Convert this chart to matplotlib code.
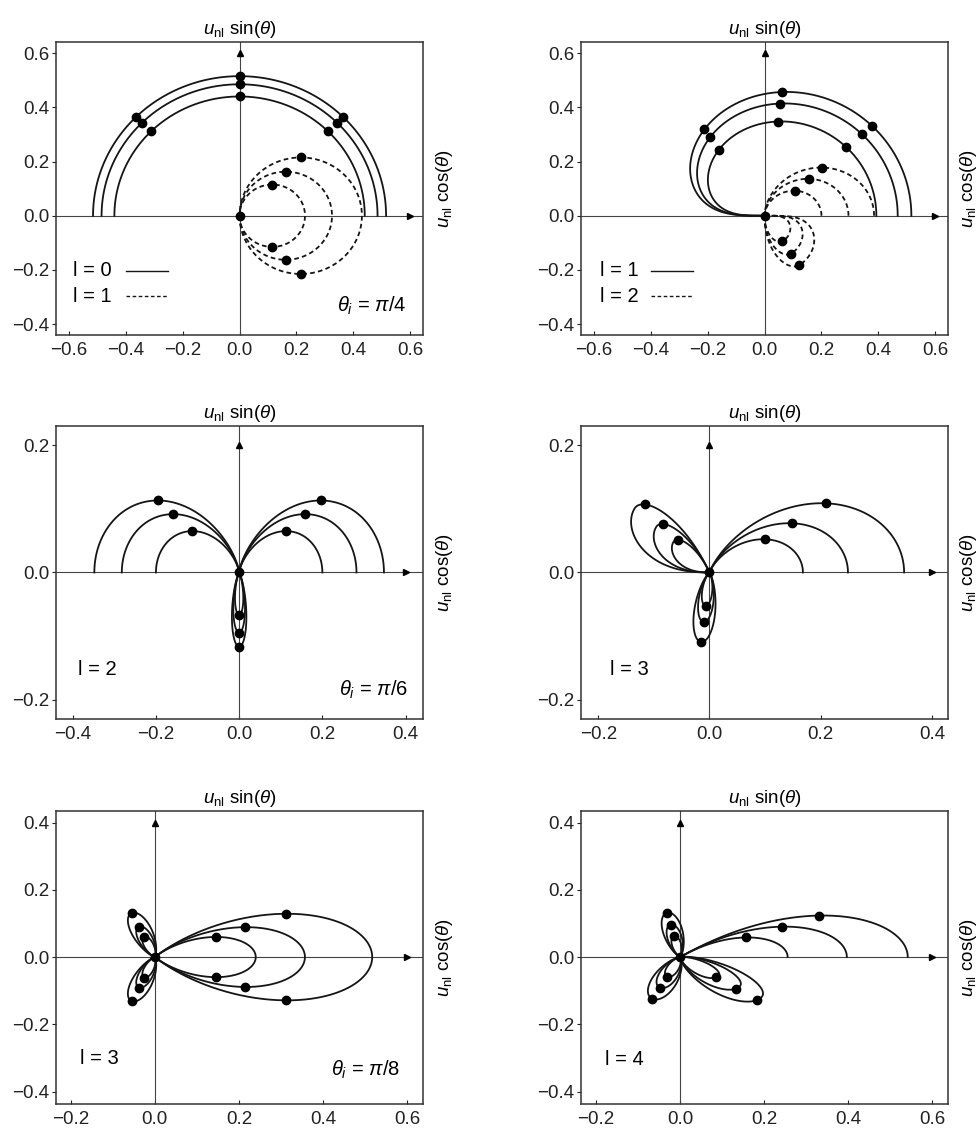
"""Polar plots of u_nl(theta) for several l and incidence angles."""
import numpy as np
import matplotlib
matplotlib.use("Agg")
import matplotlib.pyplot as plt
from matplotlib.ticker import FuncFormatter

plt.rcParams["font.family"] = ["Liberation Sans", "DejaVu Sans"]
plt.rcParams["mathtext.fontset"] = "custom"
plt.rcParams["mathtext.rm"] = "Liberation Sans"
plt.rcParams["mathtext.it"] = "Liberation Sans:italic"
plt.rcParams["font.size"] = 13.5

# Each lobe: (start angle, peak angle, end angle, relative radius, q before peak, q after peak)
# angles in degrees (direction in the x-y plane); three curves per family scaled by *_AMP.

# theta_i = pi/4, l = 0 (solid) and l = 1 (dashed)
A_SOLID_AMP = [0.44, 0.485, 0.515]
A_SOLID_LOBES = [(0, 0, 180, 1.0, 0.0, 0.0)]
A_SOLID_DOTS = [45, 90, 135]
A_DASH_AMP = [0.23, 0.325, 0.43]
A_DASH_LOBES = [(-90, 0, 90, 1.0, 1.0, 1.0)]
A_DASH_DOTS = [45, -45]

# theta_i = pi/4, l = 1 (solid) and l = 2 (dashed)
B_SOLID_AMP = [0.393, 0.468, 0.516]
B_SOLID_LOBES = [(0, 0, 180, 1.0, 0.0, 0.4)]
B_SOLID_DOTS = [41.2, 82.4, 123.6]
B_DASH_AMP = [0.20, 0.295, 0.385]
B_DASH_LOBES = [(0, 0, 90, 1.0, 0.0, 1.25), (270, 304, 360, 0.57, 0.9, 0.3)]
B_DASH_DOTS = [41.2, 303.6]

# theta_i = pi/6, l = 2
C_AMP = [0.20, 0.282, 0.348]
C_LOBES = [(0, 0, 90, 1.0, 0.0, 3.0), (90, 180, 180, 1.0, 3.0, 0.0),
           (180, 270, 360, 0.335, 16.0, 16.0)]
C_DOTS = [30, 150, 270]

# theta_i = pi/6, l = 3
D_AMP = [0.168, 0.249, 0.35]
D_LOBES = [(0, 0, 70, 1.0, 0.0, 1.95), (118, 143, 180, 0.48, 1.0, 0.7),
           (172, 262, 352, 0.315, 12.0, 12.0)]
D_DOTS = [27.5, 137.5, 262.5]

# theta_i = pi/8, l = 3
E_AMP = [0.24, 0.357, 0.517]
E_LOBES = [(-45, 0, 45, 1.0, 1.24, 1.24), (22.5, 112.5, 202.5, 0.275, 12.0, 12.0),
           (157.5, 247.5, 337.5, 0.275, 12.0, 12.0)]
E_DOTS = [22.5, -22.5, 112.5, 247.5]

# theta_i = pi/8, l = 4
F_AMP = [0.256, 0.397, 0.542]
F_LOBES = [(0, 0, 35, 1.0, 0.0, 0.86), (13, 103, 193, 0.25, 12.0, 12.0),
           (152, 242, 332, 0.26, 8.0, 8.0), (239, 329, 419, 0.42, 8.0, 14.0)]
F_DOTS = [20.5, 103, 242, 325]

TICKS_A = ([-0.6, -0.4, -0.2, 0.0, 0.2, 0.4, 0.6], [-0.4, -0.2, 0.0, 0.2, 0.4, 0.6])
TICKS_C = ([-0.4, -0.2, 0.0, 0.2, 0.4], [-0.2, 0.0, 0.2])
TICKS_D = ([-0.2, 0.0, 0.2, 0.4], [-0.2, 0.0, 0.2])
TICKS_E = ([-0.2, 0.0, 0.2, 0.4, 0.6], [-0.4, -0.2, 0.0, 0.2, 0.4])

SOLID = "-"
DASHED = (0, (2.6, 1.8))
LINE_KW = dict(color="#151515", lw=1.3)
NOTE_SIZE = 14.5


def lobe_r(psi, start, peak, end, amp, q_in, q_out):
    psi = np.atleast_1d(np.asarray(psi, dtype=float))
    t = np.zeros_like(psi)
    lo = psi < peak
    if peak > start:
        t[lo] = (psi[lo] - peak) / (peak - start)
    hi = ~lo
    if end > peak:
        t[hi] = (psi[hi] - peak) / (end - peak)
    q = np.where(lo, q_in, q_out)
    c = np.clip(np.cos(np.deg2rad(90.0 * t)), 0.0, None)
    return amp * c ** q


def draw_family(ax, amps, lobes, dots, style):
    for R in amps:
        for lobe in lobes:
            psi = np.linspace(lobe[0], lobe[2], 500)
            r = R * lobe_r(psi, *lobe)
            ax.plot(r * np.cos(np.deg2rad(psi)), r * np.sin(np.deg2rad(psi)),
                    linestyle=style, **LINE_KW, zorder=3)
        for d in dots:
            r = 0.0
            for lobe in lobes:
                if lobe[0] <= d <= lobe[2]:
                    r = max(r, R * lobe_r(d, *lobe)[0])
            ax.plot(r * np.cos(np.deg2rad(d)), r * np.sin(np.deg2rad(d)), "o",
                    color="k", ms=6, zorder=4)


def fmt(v, _):
    s = f"{v:.1f}"
    if s == "-0.0":
        s = "0.0"
    return s.replace("-", "\u2212")


def setup_axes(ax, xlim, ylim, ticks):
    ax.set_xlim(*xlim)
    ax.set_ylim(*ylim)
    ax.set_xticks(ticks[0])
    ax.set_yticks(ticks[1])
    ax.xaxis.set_major_formatter(FuncFormatter(fmt))
    ax.yaxis.set_major_formatter(FuncFormatter(fmt))
    ax.tick_params(axis="x", direction="in", length=3, width=0.8, colors="#222222",
                   labelsize=13.5, pad=5)
    ax.tick_params(axis="y", direction="out", length=3, width=0.8, colors="#222222",
                   labelsize=13.5, pad=2)
    for sp in ax.spines.values():
        sp.set_linewidth(1.1)
        sp.set_color("#333333")
    ax.axhline(0, color="#444444", lw=0.8, zorder=2)
    ax.axvline(0, color="#444444", lw=0.8, zorder=2)
    ax.plot(0, max(ticks[1]), marker="^", color="k", ms=5, zorder=5, clip_on=False)
    ax.plot(max(ticks[0]), 0, marker=">", color="k", ms=5, zorder=5, clip_on=False)
    ax.set_title(r"$u_{\mathrm{nl}}$ sin($\theta$)", fontsize=13.5, pad=6)
    ax.text(1.057, 0.5, r"$u_{\mathrm{nl}}$ cos($\theta$)", transform=ax.transAxes,
            rotation=90, ha="center", va="center", fontsize=13.5)
    ax.plot(0, 0, "o", color="k", ms=6, zorder=4)


def legend_pair(ax, x_text, labels):
    for (label, style), yy in zip(labels, [0.22, 0.133]):
        ax.text(x_text, yy, label, transform=ax.transAxes, ha="left", va="center",
                fontsize=NOTE_SIZE)
        ax.plot([0.19, 0.306], [yy, yy], transform=ax.transAxes, linestyle=style,
                color="#151515", lw=1.0)


fig = plt.figure(figsize=(9.78, 11.29), dpi=100)
W, H = 0.3753, 0.2595
COLS = [0.0573, 0.5941]
ROWS = [0.7033, 0.3632, 0.0221]

# row 1
ax = fig.add_axes([COLS[0], ROWS[0], W, H])
setup_axes(ax, (-0.645, 0.645), (-0.44, 0.641), TICKS_A)
draw_family(ax, A_SOLID_AMP, A_SOLID_LOBES, A_SOLID_DOTS, SOLID)
draw_family(ax, A_DASH_AMP, A_DASH_LOBES, A_DASH_DOTS, DASHED)
legend_pair(ax, 0.045, [("l = 0", SOLID), ("l = 1", DASHED)])
ax.text(0.955, 0.10, r"$\theta_i$ = $\pi$/4", transform=ax.transAxes, ha="right",
        va="center", fontsize=NOTE_SIZE)

ax = fig.add_axes([COLS[1], ROWS[0], W, H])
setup_axes(ax, (-0.645, 0.645), (-0.44, 0.641), TICKS_A)
draw_family(ax, B_SOLID_AMP, B_SOLID_LOBES, B_SOLID_DOTS, SOLID)
draw_family(ax, B_DASH_AMP, B_DASH_LOBES, B_DASH_DOTS, DASHED)
legend_pair(ax, 0.052, [("l = 1", SOLID), ("l = 2", DASHED)])

# row 2
ax = fig.add_axes([COLS[0], ROWS[1], W, H])
setup_axes(ax, (-0.44, 0.442), (-0.23, 0.23), TICKS_C)
draw_family(ax, C_AMP, C_LOBES, C_DOTS, SOLID)
ax.text(0.061, 0.168, "l = 2", transform=ax.transAxes, ha="left", va="center",
        fontsize=NOTE_SIZE)
ax.text(0.959, 0.10, r"$\theta_i$ = $\pi$/6", transform=ax.transAxes, ha="right",
        va="center", fontsize=NOTE_SIZE)

ax = fig.add_axes([COLS[1], ROWS[1], W, H])
setup_axes(ax, (-0.231, 0.429), (-0.23, 0.23), TICKS_D)
draw_family(ax, D_AMP, D_LOBES, D_DOTS, SOLID)
ax.text(0.079, 0.168, "l = 3", transform=ax.transAxes, ha="left", va="center",
        fontsize=NOTE_SIZE)

# row 3
ax = fig.add_axes([COLS[0], ROWS[2], W, H])
setup_axes(ax, (-0.235, 0.638), (-0.437, 0.434), TICKS_E)
draw_family(ax, E_AMP, E_LOBES, E_DOTS, SOLID)
ax.text(0.065, 0.156, "l = 3", transform=ax.transAxes, ha="left", va="center",
        fontsize=NOTE_SIZE)
ax.text(0.936, 0.118, r"$\theta_i$ = $\pi$/8", transform=ax.transAxes, ha="right",
        va="center", fontsize=NOTE_SIZE)

ax = fig.add_axes([COLS[1], ROWS[2], W, H])
setup_axes(ax, (-0.236, 0.638), (-0.437, 0.434), TICKS_E)
draw_family(ax, F_AMP, F_LOBES, F_DOTS, SOLID)
ax.text(0.064, 0.152, "l = 4", transform=ax.transAxes, ha="left", va="center",
        fontsize=NOTE_SIZE)

fig.savefig("out.png", dpi=100)
